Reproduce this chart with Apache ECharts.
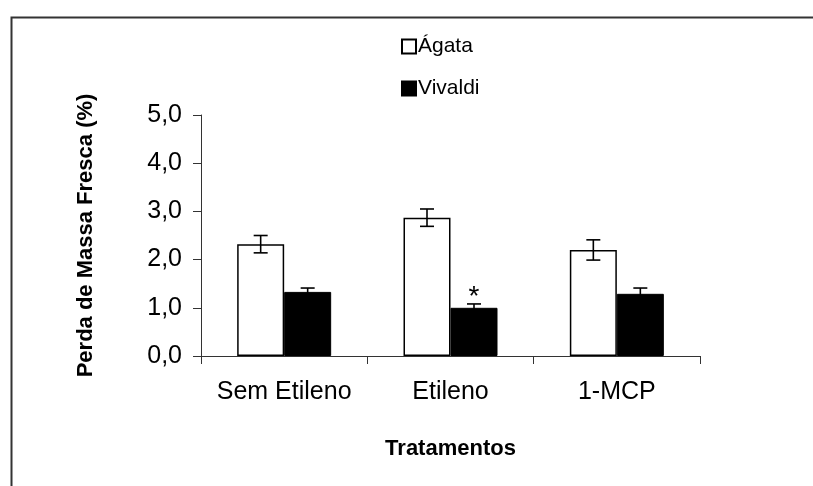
<!DOCTYPE html>
<html>
<head>
<meta charset="utf-8">
<script src="https://cdn.jsdelivr.net/npm/echarts@6/dist/echarts.min.js"></script>
<style>
html,body{margin:0;padding:0;background:#fff;}
#chart{width:813px;height:486px;}
</style>
</head>
<body>
<div id="chart"></div>
<script>
// ---- data ----
const categories = ['Sem Etileno', 'Etileno', '1-MCP'];
const seriesNames = ['Ágata', 'Vivaldi'];
const agataMean = [2.32, 2.87, 2.20];
const agataErr = [0.18, 0.18, 0.21];
const vivaldiMean = [1.33, 1.00, 1.29];
const vivaldiErr = [0.08, 0.08, 0.12];
const vivaldiMarks = ['', '*', ''];
const yTickValues = [0, 1, 2, 3, 4, 5];
const yTickLabels = ['0,0', '1,0', '2,0', '3,0', '4,0', '5,0'];
const yAxisTitle = 'Perda de Massa Fresca (%)';
const xAxisTitle = 'Tratamentos';

// ---- styles ----
const FONT = '"Liberation Sans", Arial, sans-serif';
const BAR_W = 47;
const CAP_W = 14;

function errData(means, errs, marks) {
  return means.map((m, i) => [i, m, errs[i], marks ? marks[i] : '']);
}

function makeErrRender(offset) {
  return function (params, api) {
    const idx = api.value(0), m = api.value(1), e = api.value(2);
    const mark = api.value(3);
    const top = api.coord([idx, m + e]);
    const bot = api.coord([idx, m - e]);
    const cx = top[0] + offset;
    const st = { stroke: '#000', lineWidth: 1.6 };
    const children = [
      { type: 'line', shape: { x1: cx, y1: top[1], x2: cx, y2: bot[1] }, style: st },
      { type: 'line', shape: { x1: cx - CAP_W / 2, y1: top[1], x2: cx + CAP_W / 2, y2: top[1] }, style: st },
      { type: 'line', shape: { x1: cx - CAP_W / 2, y1: bot[1], x2: cx + CAP_W / 2, y2: bot[1] }, style: st }
    ];
    if (mark && mark !== '0' && typeof mark === 'string') {
      children.push({
        type: 'text',
        style: { text: mark, x: cx, y: top[1] - 7, align: 'center', verticalAlign: 'middle',
                 font: '28px ' + FONT, fill: '#000' }
      });
    }
    return { type: 'group', children: children };
  };
}

const chart = echarts.init(document.getElementById('chart'), null, { renderer: 'canvas' });
chart.setOption({
  animation: false,
  backgroundColor: '#fff',
  textStyle: { fontFamily: FONT, color: '#000' },
  graphic: [{
    type: 'rect', left: 9, top: 15, silent: true,
    shape: { x: 0, y: 0, width: 900, height: 600 },
    style: { fill: 'none', stroke: '#333', lineWidth: 2 }
  }],
  legend: {
    orient: 'vertical',
    left: 396, top: 31,
    itemWidth: 14, itemHeight: 14,
    itemGap: 21,
    icon: 'rect',
    data: seriesNames,
    textStyle: { fontSize: 21, fontFamily: FONT, color: '#000', padding: [0, 0, 0, -3] }
  },
  grid: { left: 201, right: 113, top: 115, bottom: 130, containLabel: false },
  xAxis: {
    type: 'category',
    data: categories,
    name: xAxisTitle,
    nameLocation: 'middle',
    nameGap: 82,
    nameTextStyle: { fontSize: 22, fontWeight: 'bold', fontFamily: FONT, color: '#000', verticalAlign: 'top' },
    axisLine: { lineStyle: { color: '#333', width: 1 } },
    axisTick: { show: true, length: 8, alignWithLabel: false, lineStyle: { color: '#333' } },
    axisLabel: { interval: 0, fontSize: 25, fontFamily: FONT, color: '#000', margin: 24 },
    splitLine: { show: false }
  },
  yAxis: {
    type: 'value',
    min: 0, max: 5, interval: 1,
    name: yAxisTitle,
    nameLocation: 'middle',
    nameGap: 104,
    nameRotate: 90,
    nameTextStyle: { fontSize: 22, fontWeight: 'bold', fontFamily: FONT, color: '#000' },
    axisLine: { show: true, lineStyle: { color: '#333', width: 1 } },
    axisTick: { show: true, length: 8, lineStyle: { color: '#333' } },
    axisLabel: {
      fontSize: 25, fontFamily: FONT, color: '#000', margin: 19,
      formatter: function (v) { const i = yTickValues.indexOf(v); return i >= 0 ? yTickLabels[i] : ''; }
    },
    splitLine: { show: false }
  },
  series: [
    {
      name: seriesNames[0], type: 'bar', data: agataMean,
      barWidth: BAR_W, barGap: '0%',
      itemStyle: { color: '#fff', borderColor: '#000', borderWidth: 1.5 }
    },
    {
      name: seriesNames[1], type: 'bar', data: vivaldiMean,
      barWidth: BAR_W, barGap: '0%',
      itemStyle: { color: '#000', borderColor: '#000', borderWidth: 1 }
    },
    {
      name: 'errA', type: 'custom', data: errData(agataMean, agataErr),
      renderItem: makeErrRender(-BAR_W / 2), z: 5, silent: true,
      encode: { x: 0, y: 1 }
    },
    {
      name: 'errV', type: 'custom', data: errData(vivaldiMean, vivaldiErr, vivaldiMarks),
      renderItem: makeErrRender(BAR_W / 2), z: 5, silent: true,
      encode: { x: 0, y: 1 }
    }
  ]
});
</script>
</body>
</html>
